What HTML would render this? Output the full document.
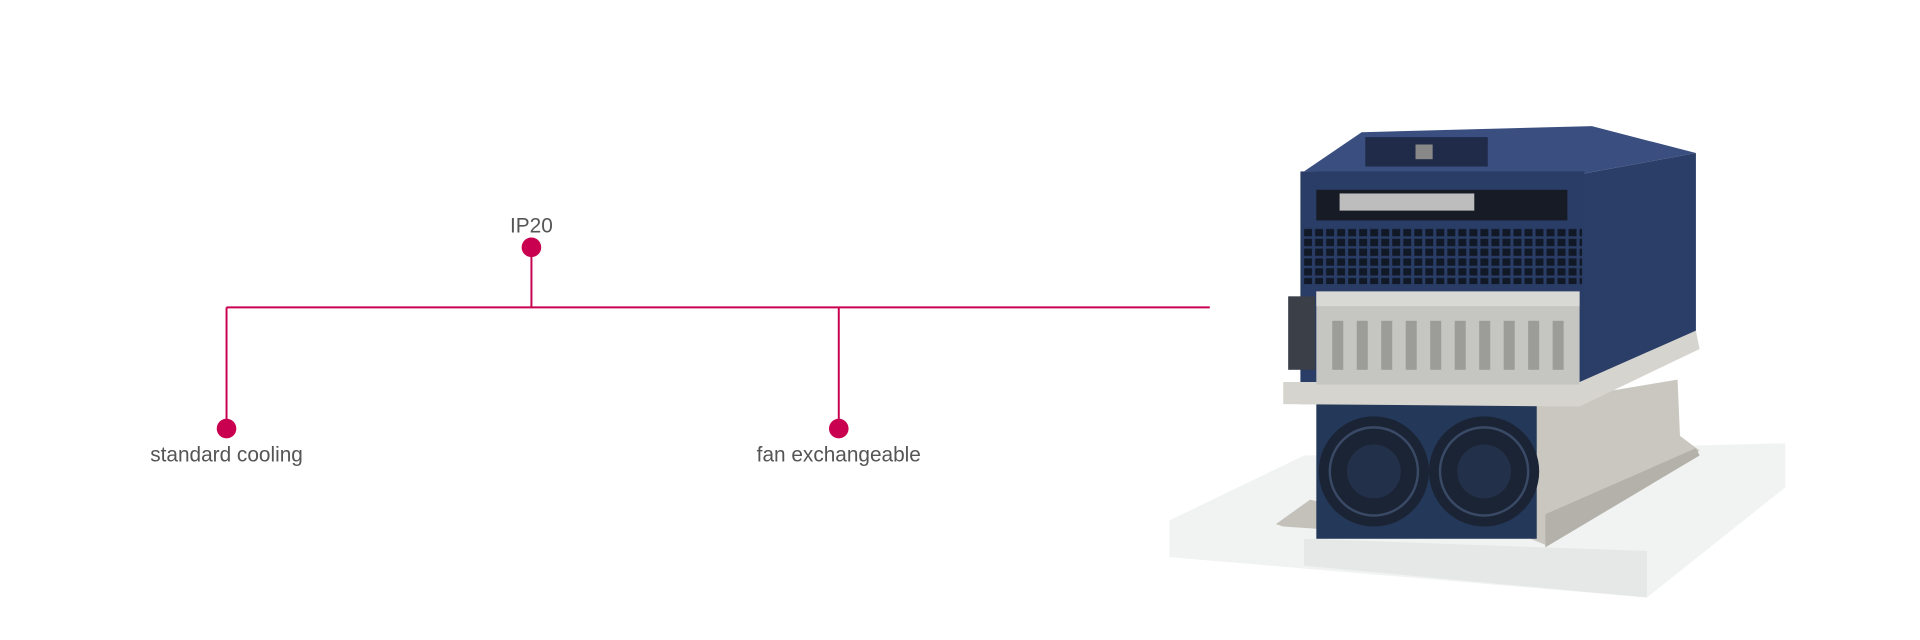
<!DOCTYPE html>
<html><head><meta charset="utf-8"><style>
html,body{margin:0;padding:0;background:#fff;width:1920px;height:640px;overflow:hidden}
svg{display:block}
text{font-family:"Liberation Sans",sans-serif;fill:#555;font-size:17px}
</style></head><body>
<svg width="1920" height="640" viewBox="0 0 1568 522.67" xmlns="http://www.w3.org/2000/svg">
<defs>
<pattern id="vent" x="1064" y="186" width="9" height="8" patternUnits="userSpaceOnUse">
<rect width="9" height="8" fill="#2a3d66"/><rect x="1" y="1" width="6.5" height="6" fill="#111826"/>
</pattern>
</defs>
<g stroke="#c8004f" stroke-width="1.6" fill="none">
<line x1="185" y1="251" x2="988" y2="251"/>
<line x1="185" y1="251" x2="185" y2="350"/>
<line x1="434" y1="202" x2="434" y2="251"/>
<line x1="685" y1="251" x2="685" y2="350"/>
</g>
<g fill="#c8004f">
<circle cx="434" cy="202" r="8"/>
<circle cx="185" cy="350" r="8"/>
<circle cx="685" cy="350" r="8"/>
</g>
<text x="434" y="190" text-anchor="middle">IP20</text>
<text x="185" y="377" text-anchor="middle">standard cooling</text>
<text x="685" y="377" text-anchor="middle">fan exchangeable</text>

<polygon points="955,425 1065,372 1458,362 1458,398 1345,488 955,455" fill="#f1f2f2"/>
<polygon points="1065,440 1345,450 1345,488 1065,462" fill="#e6e8e8"/>
<polygon points="1250,330 1370,310 1372,356 1388,368 1262,445 1250,440" fill="#c9c7c0"/>
<polygon points="1262,420 1385,366 1388,372 1262,447" fill="#b3b1aa"/>
<polygon points="1042,428 1070,408 1078,410 1078,432 1048,430" fill="#c3c1ba"/>
<rect x="1075" y="330" width="180" height="110" fill="#243859"/>
<circle cx="1122" cy="385" r="45" fill="#1b2435"/>
<circle cx="1212" cy="385" r="45" fill="#1b2435"/>
<circle cx="1122" cy="385" r="36" fill="none" stroke="#3a4a66" stroke-width="2"/>
<circle cx="1212" cy="385" r="36" fill="none" stroke="#3a4a66" stroke-width="2"/>
<circle cx="1122" cy="385" r="22" fill="#22304a"/>
<circle cx="1212" cy="385" r="22" fill="#22304a"/>
<polygon points="1292,142 1385,125 1385,272 1292,330" fill="#2b3e68"/>
<polygon points="1065,140 1112,108 1300,103 1385,125 1292,142" fill="#3a4f80"/>
<rect x="1062" y="140" width="232" height="190" fill="#2a3d66"/>
<rect x="1115" y="112" width="100" height="24" fill="#1f2b48"/>
<rect x="1156" y="118" width="14" height="12" fill="#888"/>
<rect x="1075" y="155" width="205" height="25" fill="#161b25"/>
<rect x="1094" y="158" width="110" height="14" fill="#bdbdbd"/>
<rect x="1064" y="186" width="228" height="46" fill="url(#vent)"/>
<polygon points="1048,312 1290,312 1385,270 1388,285 1290,332 1048,330" fill="#d6d4ce"/>
<rect x="1075" y="238" width="215" height="76" fill="#c5c5c2"/>
<rect x="1075" y="238" width="215" height="12" fill="#d8d8d5"/>
<g fill="#9c9c99">
<rect x="1088" y="262" width="9" height="40"/><rect x="1108" y="262" width="9" height="40"/>
<rect x="1128" y="262" width="9" height="40"/><rect x="1148" y="262" width="9" height="40"/>
<rect x="1168" y="262" width="9" height="40"/><rect x="1188" y="262" width="9" height="40"/>
<rect x="1208" y="262" width="9" height="40"/><rect x="1228" y="262" width="9" height="40"/>
<rect x="1248" y="262" width="9" height="40"/><rect x="1268" y="262" width="9" height="40"/>
</g>
<rect x="1052" y="242" width="22" height="60" fill="#3a3f48"/>
</svg>
</body></html>
